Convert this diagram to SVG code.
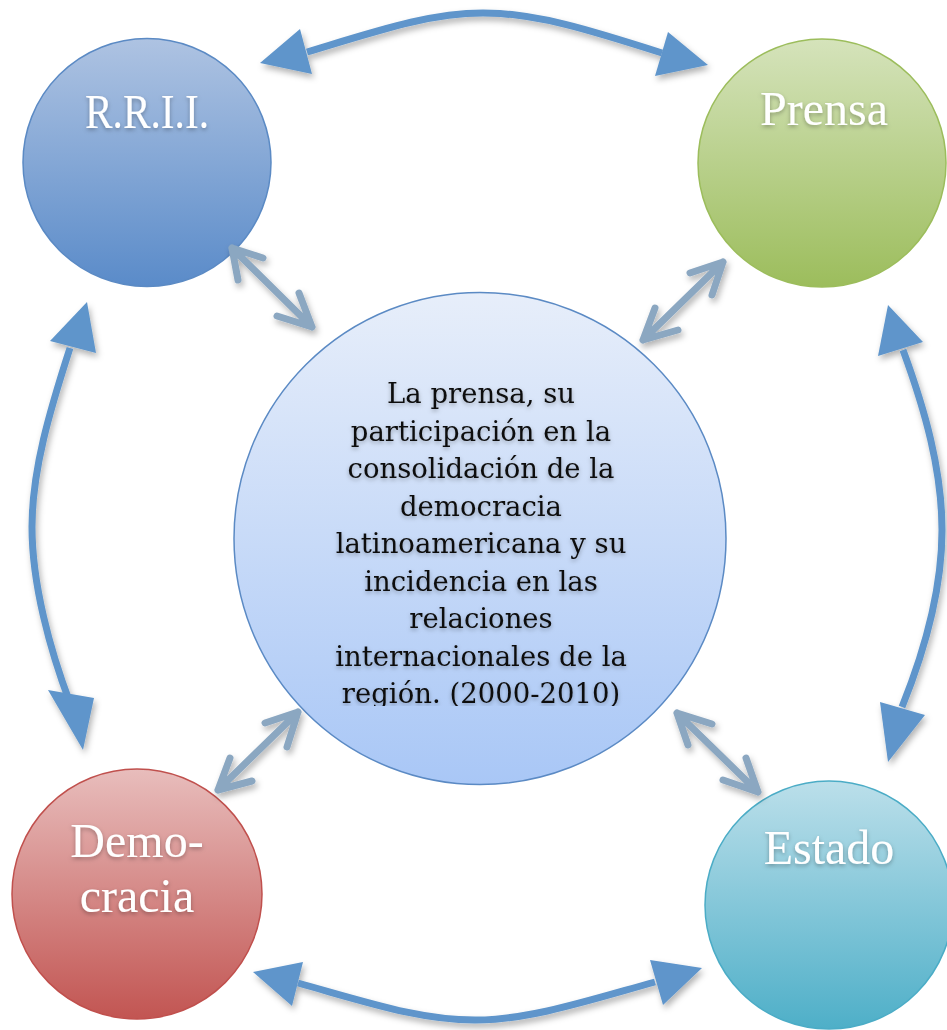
<svg xmlns="http://www.w3.org/2000/svg" width="947" height="1030" viewBox="0 0 947 1030">
<defs>
<style>
.big{fill:none;stroke:#5f95cb;stroke-width:7;}
.head{fill:#5f95cb;}
.small{fill:none;stroke:#8ba7c1;stroke-width:7;stroke-linecap:round;stroke-linejoin:round;}
.lbl{font-family:"Liberation Serif",serif;font-size:48px;fill:#ffffff;text-anchor:middle;}
.ctr{font-family:"DejaVu Serif",serif;font-size:27.5px;fill:#111111;text-anchor:middle;}
</style>
<linearGradient id="gBlue" x1="0" y1="0" x2="0" y2="1">
<stop offset="0" stop-color="#aec3e2"/><stop offset="1" stop-color="#5a8bc9"/>
</linearGradient>
<linearGradient id="gGreen" x1="0" y1="0" x2="0" y2="1">
<stop offset="0" stop-color="#d5e3bb"/><stop offset="1" stop-color="#9cbd5c"/>
</linearGradient>
<linearGradient id="gRed" x1="0" y1="0" x2="0" y2="1">
<stop offset="0" stop-color="#e8bdbc"/><stop offset="1" stop-color="#c25552"/>
</linearGradient>
<linearGradient id="gCyan" x1="0" y1="0" x2="0" y2="1">
<stop offset="0" stop-color="#bbdfea"/><stop offset="1" stop-color="#4eafc8"/>
</linearGradient>
<linearGradient id="gCenter" x1="0" y1="0" x2="0" y2="1">
<stop offset="0" stop-color="#e7eefa"/><stop offset="1" stop-color="#a9c7f6"/>
</linearGradient>
<filter id="sh" x="-20%" y="-20%" width="140%" height="140%">
<feDropShadow dx="2" dy="4" stdDeviation="3" flood-color="#000" flood-opacity="0.3"/>
</filter>
<filter id="tsh" x="-10%" y="-30%" width="120%" height="160%">
<feDropShadow dx="0" dy="2" stdDeviation="2" flood-color="#000" flood-opacity="0.3"/>
</filter>
<clipPath id="ctrClip"><rect x="0" y="360" width="947" height="346"/></clipPath>
</defs>
<rect width="947" height="1030" fill="#ffffff"/>

<g id="node-center">
<circle cx="480" cy="538.5" r="246" fill="url(#gCenter)" stroke="#5b8ac4" stroke-width="1.5"/>
<g clip-path="url(#ctrClip)" filter="url(#tsh)">
<text class="ctr" x="481" y="403">La prensa, su</text>
<text class="ctr" x="481" y="441">participación en la</text>
<text class="ctr" x="481" y="478">consolidación de la</text>
<text class="ctr" x="481" y="516">democracia</text>
<text class="ctr" x="481" y="553">latinoamericana y su</text>
<text class="ctr" x="481" y="591">incidencia en las</text>
<text class="ctr" x="481" y="628">relaciones</text>
<text class="ctr" x="481" y="666">internacionales de la</text>
<text class="ctr" x="481" y="703">región. (2000-2010)</text>
</g>
</g>

<g id="node-rrii">
<circle cx="147" cy="162.5" r="124" fill="url(#gBlue)" stroke="#5b8ac4" stroke-width="1.5"/>
<text class="lbl" x="147" y="128" textLength="124" lengthAdjust="spacingAndGlyphs" filter="url(#tsh)">R.R.I.I.</text>
</g>

<g id="node-prensa">
<circle cx="822" cy="163" r="124" fill="url(#gGreen)" stroke="#9cbd5c" stroke-width="1.5"/>
<text class="lbl" x="824" y="125" filter="url(#tsh)">Prensa</text>
</g>

<g id="node-democracia">
<circle cx="137" cy="894" r="125" fill="url(#gRed)" stroke="#c0504d" stroke-width="1.5"/>
<text class="lbl" x="137" y="857" filter="url(#tsh)">Demo-</text>
<text class="lbl" x="137" y="912" filter="url(#tsh)">cracia</text>
</g>

<g id="node-estado">
<circle cx="829" cy="905" r="124" fill="url(#gCyan)" stroke="#4bacc6" stroke-width="1.5"/>
<text class="lbl" x="829" y="864" filter="url(#tsh)">Estado</text>
</g>

<g id="connectors">
<g filter="url(#sh)">
<path class="big" d="M307,52 C380,30 430,13 483,13 S590,30 662,53"/>
<polygon class="head" points="260,63 300,29 312,74"/>
<polygon class="head" points="708,65 668,32 655,76"/>
<path class="big" d="M298,983 C370,1003 420,1020 475,1020 S590,1000 655,982"/>
<polygon class="head" points="253,972 303,962 292,1006"/>
<polygon class="head" points="702,968 650,960 663,1005"/>
<path class="big" d="M70,348 C50,410 32,470 32,527 S50,650 70,703"/>
<polygon class="head" points="87,302 50,341 96,353"/>
<polygon class="head" points="83,750 48,690 94,698"/>
<path class="big" d="M903,350 C925,410 942,470 942,530 S925,650 902,707"/>
<polygon class="head" points="888,305 878,356 923,342"/>
<polygon class="head" points="888,762 880,702 925,715"/>
</g>
<g filter="url(#sh)">
<path class="small" d="M232,248 L312,327 M263,258 L232,248 L238,280 M277,316 L312,327 L299,293"/>
<path class="small" d="M723,262 L643,340 M690,273 L723,262 L712,295 M655,308 L643,340 L678,330"/>
<path class="small" d="M298,712 L218,790 M265,723 L298,712 L287,747 M230,758 L218,790 L252,781"/>
<path class="small" d="M677,713 L758,792 M712,724 L677,713 L688,745 M723,780 L758,792 L746,758"/>
</g>
</g>
</svg>
